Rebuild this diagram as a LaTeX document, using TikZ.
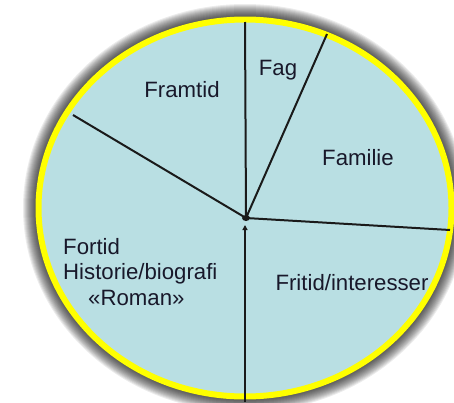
\documentclass[tikz,border=0pt]{standalone}
\usepackage{fontspec}
\setmainfont{Liberation Sans}
\usetikzlibrary{arrows.meta,positioning}
\definecolor{ink}{HTML}{18182A}
\definecolor{spoke}{HTML}{1A1A1A}
\definecolor{piebg}{HTML}{B9DFE3}
\definecolor{rim}{HTML}{FFFF00}

\begin{document}
\begin{tikzpicture}[x=1pt,y=-1pt,
  lbl/.style={font=\fontsize{22.2}{25.5}\selectfont,text=ink,inner sep=0pt},
  arm/.style={draw=spoke,line width=2pt},
  pie/.style={fill=piebg,draw=rim,line width=6pt},
  glow/.style={fill=black,opacity=0.075}]
  \useasboundingbox (0,0) rectangle (454,402);

  % soft shadow round the disc
  \foreach \d in {1,...,14}
    \fill[glow] (245,208) ellipse [x radius=208+\d,y radius=190+\d];
  \path[pie] (245,208) ellipse [x radius=206.5,y radius=188.5];

  \coordinate (hub) at (246,218);
  \coordinate (top) at (245,22);
  \coordinate (bot) at (245,402);
  \coordinate (tip) at (245,225);
  \coordinate (fagend) at (327,34);
  \coordinate (leftend) at (73,115);
  \coordinate (rightend) at (450,230);

  \draw[arm] (hub) -- (top);
  \draw[arm] (hub) -- (fagend);
  \draw[arm] (hub) -- (leftend);
  \draw[arm] (hub) -- (rightend);
  \draw[arm,-{Triangle[length=5pt,width=5pt]}] (bot) -- (tip);
  \fill[spoke] (hub) ellipse [x radius=4,y radius=3];

  \node[lbl] (fag) at (278,70) {Fag};
  \node[lbl] (framtid) at (182,90) {Framtid};
  \node[lbl] (familie) at (358,158) {Familie};
  \node[lbl] (fritid) at (352,283) {Fritid/interesser};
  \node[lbl,anchor=west,align=left] (fortid) at (63,272)
    {Fortid\\Historie/biografi\\\hspace{25pt}«Roman»};
\end{tikzpicture}
\end{document}
